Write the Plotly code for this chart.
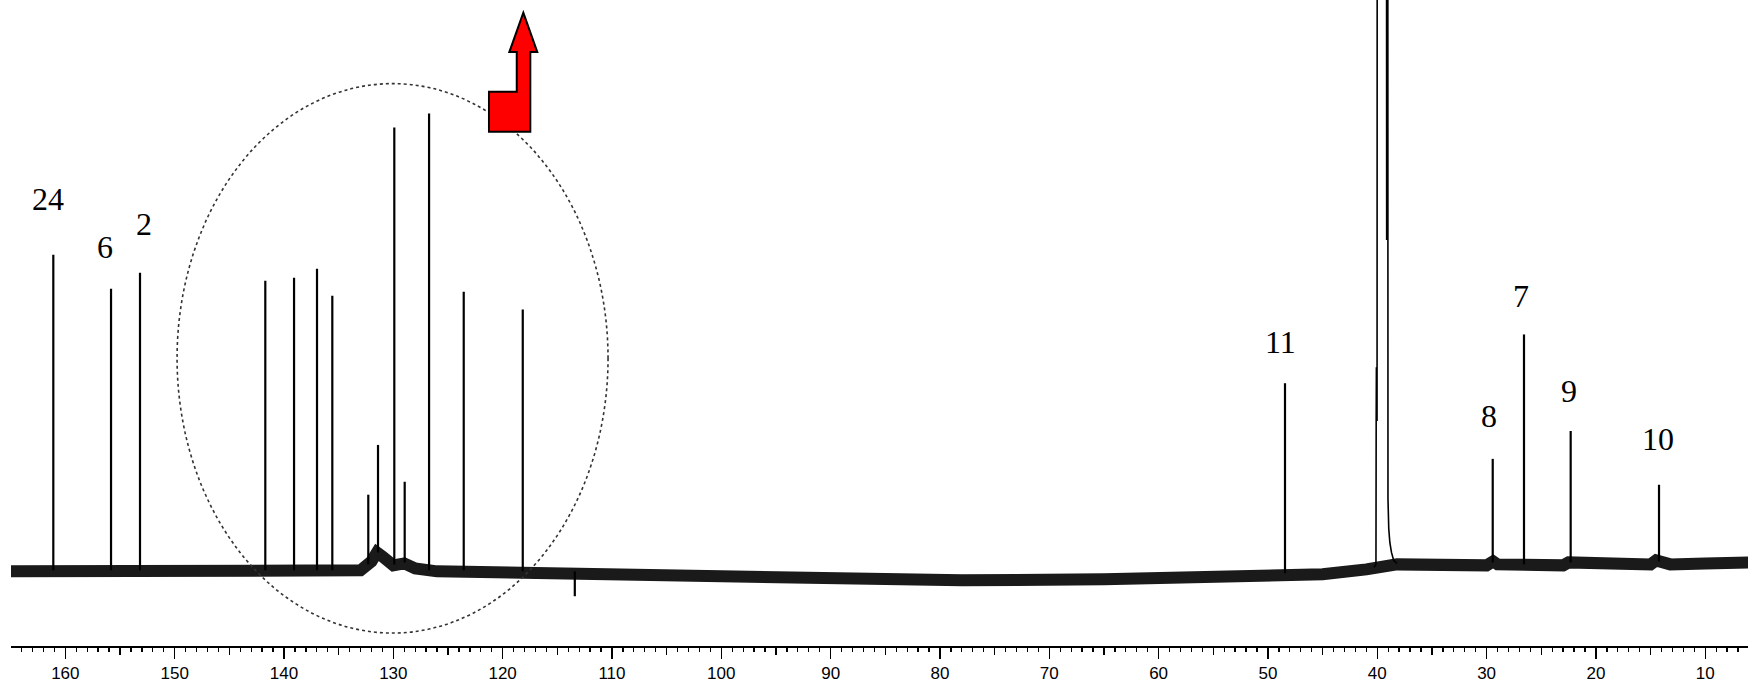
import plotly.graph_objects as go

# ---------------- data ----------------
# chemical shift axis (ppm), tick labels
tick_vals = [160, 150, 140, 130, 120, 110, 100, 90, 80, 70, 60, 50, 40, 30, 20, 10]
tick_text = [str(v) for v in tick_vals]
mid_tick_vals = [165, 155, 145, 135, 125, 115, 105, 95, 85, 75, 65, 55, 45, 35, 25, 15]

# baseline level (intensity, arbitrary units) along the spectrum
base_ppm = [165.0, 150.0, 140.0, 134.0, 133.0, 132.0, 131.5, 131.0, 130.5, 130.0,
            129.0, 128.0, 126.0, 120.0, 110.0, 102.0, 90.0, 78.0, 65.0, 54.0,
            45.0, 41.0, 40.3, 38.2, 30.0, 29.8, 29.4, 29.0, 26.8, 23.0, 22.5,
            22.0, 21.5, 15.0, 14.5, 14.0, 13.2, 10.0, 6.0]
base_int = [-1, -1, -1, -1, 0, 9, 18, 14, 9, 5,
            7, 2, -1, -2, -3, -6, -9, -10, -9, -7,
            -4, 1, 2, 6, 5, 6, 9, 6, 5, 5, 8,
            8, 5, 6, 10, 9, 6, 7, 8]

# resolved signals: position, top intensity, local base
peak_ppm = [161.10, 155.82, 153.17, 141.71, 139.08, 136.98, 135.58, 132.29, 131.40,
            129.91, 128.96, 126.73, 123.56, 118.16, 113.40, 48.44, 29.44, 26.58,
            22.31, 14.23]
peak_int = [317, 283, 299, 291, 294, 303, 276, 76, 126,
            445, 89, 459, 280, 262, -26, 188, 112, 237,
            140, 86]
peak_base = [0, 0, 0, 0, 0, 0, 0, 6, 18,
             6, 8, 0, 0, -1, -1, -3, 8, 6,
             8, 9]

# solvent (DMSO-d6) multiplet envelope, clipped by the top of the frame
solv_ppm = [40.30, 40.12, 40.10, 40.08, 40.02, 40.00, 39.16, 39.14, 39.04, 39.02,
            38.95, 38.85, 38.70, 38.50, 38.20]
solv_int = [3, 6, 150, 204, 150, 900, 900, 332, 900, 72,
            42, 28, 18, 10, 7]

# assignment labels
label_text = ["24", "6", "2", "11", "8", "7", "9", "10"]
label_ppm = [161.55, 156.37, 152.77, 48.81, 29.78, 26.88, 22.44, 14.30]
label_int = [373, 325, 348, 229, 155, 276, 180, 132]

# highlighted region (dotted ellipse) and red arrow outline
ellipse_ppm = [149.78, 110.36]
ellipse_int = [-63, 489]
arrow_ppm = [118.11, 116.83, 117.47, 117.47, 121.25, 121.25, 118.71, 118.71, 119.39]
arrow_int = [560.3, 520.7, 520.7, 440.7, 440.7, 480.7, 480.7, 520.7, 520.7]

X_RANGE = [164.97, 6.09]
Y_RANGE = [-76, 573]

# ---------------- figure ----------------
fig = go.Figure()

fig.add_trace(go.Scatter(x=base_ppm, y=base_int, mode="lines",
                         line=dict(color="#1a1a1a", width=12),
                         hoverinfo="skip", showlegend=False))

px, py = [], []
for p, h, b in zip(peak_ppm, peak_int, peak_base):
    px += [p, p, None]
    py += [b, h, None]
fig.add_trace(go.Scatter(x=px, y=py, mode="lines",
                         line=dict(color="black", width=2.2),
                         hoverinfo="skip", showlegend=False))

fig.add_trace(go.Scatter(x=solv_ppm, y=solv_int, mode="lines",
                         line=dict(color="black", width=1.6),
                         hoverinfo="skip", showlegend=False))

# dummy trace for the medium-tick axis
fig.add_trace(go.Scatter(x=[X_RANGE[0]], y=[None], xaxis="x2", mode="lines",
                         hoverinfo="skip", showlegend=False))

for t, xx, yy in zip(label_text, label_ppm, label_int):
    fig.add_annotation(x=xx, y=yy, text=t, showarrow=False, xref="x", yref="y",
                       font=dict(family="Liberation Serif, Times New Roman, serif",
                                 size=32, color="black"))

fig.add_shape(type="circle", xref="x", yref="y",
              x0=ellipse_ppm[0], x1=ellipse_ppm[1], y0=ellipse_int[0], y1=ellipse_int[1],
              line=dict(color="#333333", width=1.6, dash="dot"), layer="above")

path = "M " + " L ".join(f"{a},{b}" for a, b in zip(arrow_ppm, arrow_int)) + " Z"
fig.add_shape(type="path", xref="x", yref="y", path=path,
              fillcolor="#ff0000", line=dict(color="black", width=2), layer="above")

tick_font = dict(family="Liberation Sans, Arial, sans-serif", size=17, color="black")
fig.update_layout(
    width=1748, height=683,
    margin=dict(l=11, r=0, t=0, b=34),
    paper_bgcolor="white", plot_bgcolor="white",
    showlegend=False,
    xaxis=dict(range=X_RANGE, showgrid=False, zeroline=False,
               showline=True, linecolor="black", linewidth=1.6,
               tickmode="array", tickvals=tick_vals, ticktext=tick_text,
               ticks="outside", ticklen=11, tickwidth=1.5, tickcolor="black",
               tickfont=tick_font,
               minor=dict(dtick=1, tick0=0, ticks="outside", ticklen=4,
                          tickwidth=1.3, tickcolor="black", showgrid=False)),
    xaxis2=dict(range=X_RANGE, overlaying="x", anchor="y", side="bottom",
                showgrid=False, zeroline=False, showline=False,
                tickmode="array", tickvals=mid_tick_vals, ticks="outside",
                ticklen=8, tickwidth=1.5, tickcolor="black", showticklabels=False),
    yaxis=dict(range=Y_RANGE, visible=False, showgrid=False, zeroline=False),
)

# remove the browser's default 8px page margin so the figure fills the window
fig.write_html("out.html",
               config={"displayModeBar": False, "staticPlot": True},
               post_script="document.body.style.margin='0px';"
                           "document.body.style.overflow='hidden';")
